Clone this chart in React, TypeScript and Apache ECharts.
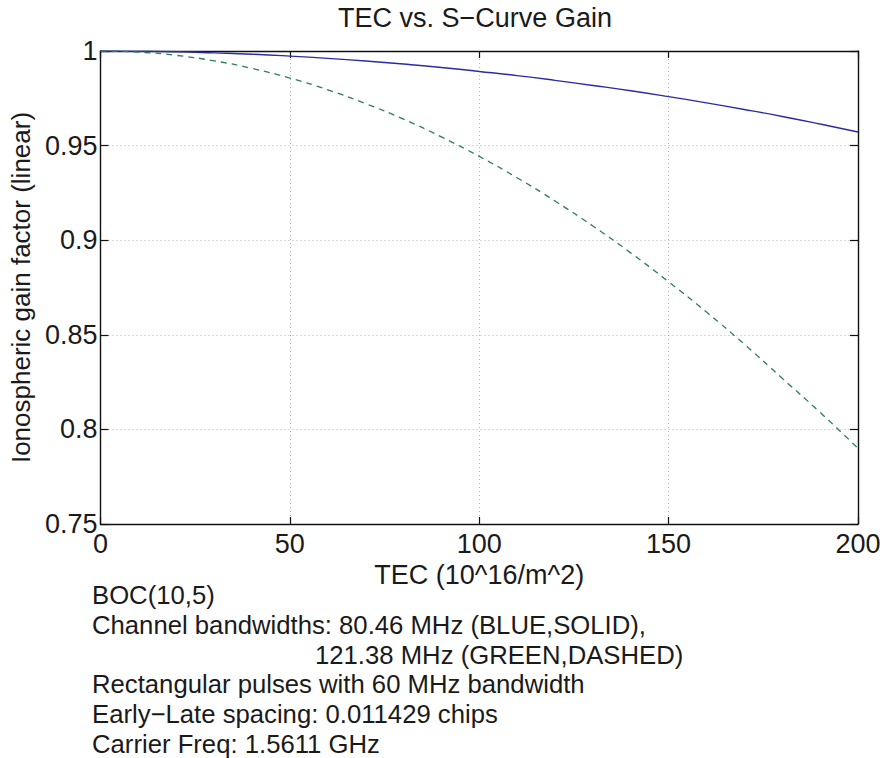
import React, { useEffect, useRef } from "react";
import * as echarts from "echarts";

const tecValues = [0, 10, 20, 30, 40, 50, 60, 70, 80, 90, 100, 110, 120, 130, 140, 150, 160, 170, 180, 190, 200];
const gainBlueSolid = [1, 0.9999, 0.9996, 0.999, 0.9983, 0.9973, 0.9961, 0.9947, 0.9931, 0.9913, 0.9892, 0.987, 0.9845, 0.9818, 0.979, 0.9759, 0.9726, 0.9691, 0.9654, 0.9614, 0.9572];
const gainGreenDashed = [1, 0.9994, 0.9977, 0.9948, 0.9908, 0.9857, 0.9795, 0.9722, 0.964, 0.9546, 0.9443, 0.933, 0.9207, 0.9075, 0.8933, 0.878, 0.862, 0.845, 0.827, 0.809, 0.79];
const annotationLines = [
  "BOC(10,5)",
  "Channel bandwidths: 80.46 MHz (BLUE,SOLID),",
  "121.38 MHz (GREEN,DASHED)",
  "Rectangular pulses with 60 MHz bandwidth",
  "Early\u2212Late spacing: 0.011429 chips",
  "Carrier Freq: 1.5611 GHz",
];
const annotationIndent = [0, 0, 223, 0, 0, 0];

const FONT = "'Liberation Sans', Arial, Helvetica, sans-serif";

export default function App() {
  const ref = useRef<HTMLDivElement>(null);
  useEffect(() => {
    if (!ref.current) return;
    const chart = echarts.init(ref.current, undefined, { renderer: "svg" });
    const gridLeft = 92, gridTop = 51, gridRight = 28, gridBottom = 234;
    const textStyle = { fontFamily: FONT, color: "#000" };
    const blue = tecValues.map((x, i) => [x, gainBlueSolid[i]]);
    const green = tecValues.map((x, i) => [x, gainGreenDashed[i]]);
    const axisLine = { show: true, onZero: false, lineStyle: { color: "#111", width: 1.4 } };
    const tickX = { show: true, inside: true, length: 7, lineStyle: { color: "#111", width: 1.2 } };
    const tickY = { show: true, inside: true, length: 8, lineStyle: { color: "#111", width: 1.2 } };
    const grid = { show: true, lineStyle: { color: "#b0b0b0", type: [1, 3], width: 1 } };
    chart.setOption({
      animation: false,
      backgroundColor: "#fff",
      textStyle,
      grid: { left: gridLeft, top: gridTop, right: gridRight, bottom: gridBottom, containLabel: false },
      xAxis: [
        {
          type: "value", min: 0, max: 200, interval: 50,
          name: "TEC (10^16/m^2)", nameLocation: "middle", nameGap: 30,
          nameTextStyle: { fontFamily: FONT, fontSize: 27, color: "#1a1a1a" },
          axisLine, axisTick: tickX,
          axisLabel: { fontFamily: FONT, fontSize: 27, color: "#1a1a1a", margin: 6, alignMinLabel: "center", alignMaxLabel: "center" },
          splitLine: grid,
        },
        {
          type: "value", min: 0, max: 200, interval: 50, position: "top",
          axisLine, axisTick: tickX,
          axisLabel: { show: false },
          splitLine: { show: false },
        },
      ],
      yAxis: [
        {
          type: "value", min: 0.75, max: 1, interval: 0.05,
          name: "Ionospheric gain factor (linear)", nameLocation: "middle", nameGap: 63,
          nameTextStyle: { fontFamily: FONT, fontSize: 26, color: "#1a1a1a" },
          axisLine, axisTick: tickY,
          axisLabel: {
            fontFamily: FONT, fontSize: 27, color: "#1a1a1a", margin: 3,
            formatter: (v: number) => (Math.abs(v - 1) < 1e-9 ? "1" : String(parseFloat(v.toFixed(2)))),
          },
          splitLine: grid,
        },
        {
          type: "value", min: 0.75, max: 1, interval: 0.05, position: "right",
          axisLine, axisTick: tickY,
          axisLabel: { show: false },
          splitLine: { show: false },
        },
      ],
      series: [
        {
          type: "line", data: blue, showSymbol: false, smooth: true, xAxisIndex: 0, yAxisIndex: 0,
          lineStyle: { color: "#2b2ba6", width: 1.4, type: "solid" },
        },
        {
          type: "line", data: green, showSymbol: false, smooth: true, xAxisIndex: 0, yAxisIndex: 0,
          lineStyle: { color: "#2f7d57", width: 1.3, type: [6, 5] },
        },
      ],
      graphic: [
        {
          type: "text", x: 475, y: 18,
          style: { text: "TEC vs. S\u2212Curve Gain", font: `27px ${FONT}`, fill: "#1a1a1a", textAlign: "center", textVerticalAlign: "middle" },
        },
        ...annotationLines.map((t, i) => ({
          type: "text",
          x: 92 + annotationIndent[i],
          y: 595 + i * 29.8,
          style: { text: t, font: `25.7px ${FONT}`, fill: "#1a1a1a", textVerticalAlign: "middle" },
        })),
      ],
    });
    return () => chart.dispose();
  }, []);
  return (
    <div
      ref={ref}
      style={{ position: "fixed", left: 0, top: 0, width: 886, height: 758, background: "#fff" }}
    />
  );
}
